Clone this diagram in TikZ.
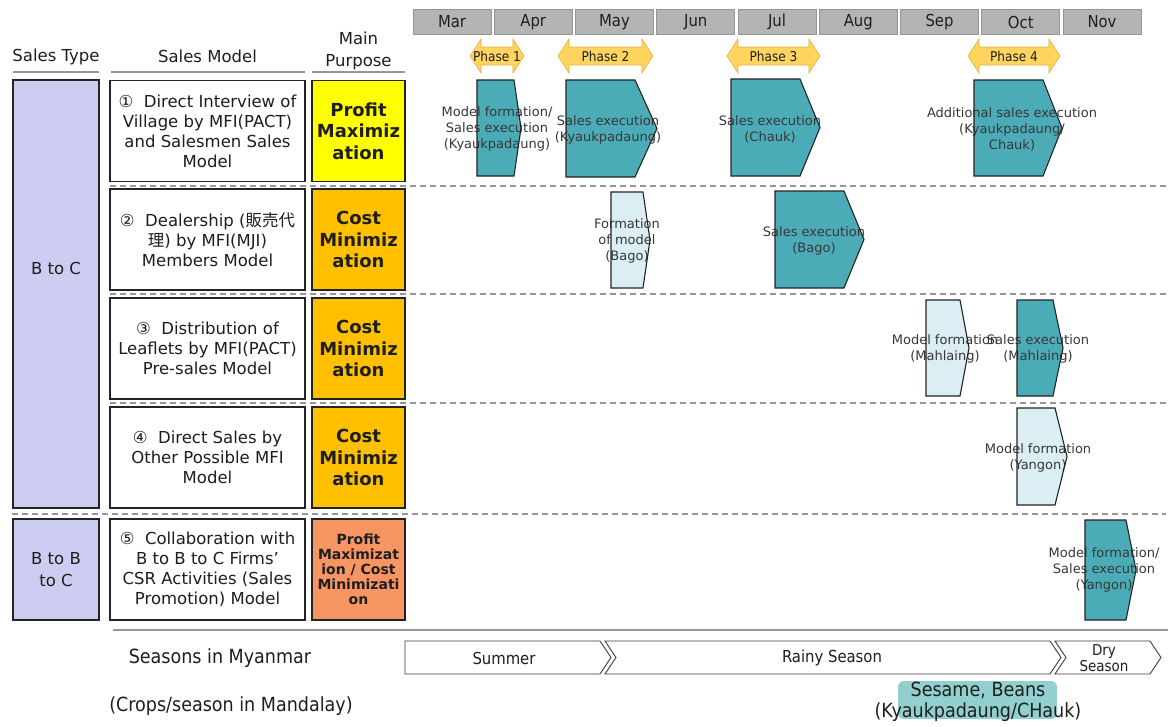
\documentclass[tikz,border=0pt]{standalone}
\usepackage{fontspec}
\setmainfont{DejaVu Sans}
\newfontfamily\condfont{DejaVu Sans Condensed}
\newfontfamily\jpfont{Noto Sans CJK JP}

\definecolor{inkdark}{RGB}{30,30,30}
\definecolor{labelgray}{RGB}{55,55,55}
\definecolor{monthgray}{RGB}{180,180,180}
\definecolor{monthedge}{RGB}{150,150,150}
\definecolor{linegray}{RGB}{150,150,150}
\definecolor{boxedge}{RGB}{35,35,35}
\definecolor{lav}{RGB}{205,205,242}
\definecolor{yel}{RGB}{255,255,0}
\definecolor{org}{RGB}{255,192,0}
\definecolor{salmon}{RGB}{247,150,98}
\definecolor{phasey}{RGB}{255,212,95}
\definecolor{phaseedge}{RGB}{232,175,60}
\definecolor{tealc}{RGB}{75,172,183}
\definecolor{lightc}{RGB}{218,238,243}
\definecolor{seasonedge}{RGB}{60,60,60}
\definecolor{sesame}{RGB}{146,208,208}

% pentagon outline: left, shoulder, tip, top, bottom
\newcommand\pentpath[5]{(#1,#4) -- (#2,#4) -- (#3,{(#4+#5)/2}) -- (#2,#5) -- (#1,#5) -- cycle}
% all activity shapes; #1 adds drawing options for the pass
\newcommand\activityshapes[1]{%
  \path[fill=tealc,#1]  \pentpath{477}{514}{521}{80}{176};
  \path[fill=tealc,#1]  \pentpath{566}{635}{657}{80}{177};
  \path[fill=tealc,#1]  \pentpath{731}{800}{820}{79}{176};
  \path[fill=tealc,#1]  \pentpath{974}{1043}{1062}{80}{176};
  \path[fill=lightc,#1] \pentpath{611}{643}{650}{192}{288};
  \path[fill=tealc,#1]  \pentpath{775}{844}{864}{191}{288};
  \path[fill=lightc,#1] \pentpath{926}{960}{969}{300}{396};
  \path[fill=tealc,#1]  \pentpath{1017}{1053}{1063}{300}{396};
  \path[fill=lightc,#1] \pentpath{1017}{1055}{1067}{408}{505};
  \path[fill=tealc,#1]  \pentpath{1085}{1126}{1136}{520}{620};
}
% double-headed phase arrow: left tip, right tip, node name, text
\newcommand\phasearrow[4]{%
  \path[phasefill] (#1,56) -- ({#1+11},39) -- ({#1+11},47) -- ({#2-11},47) -- ({#2-11},39)
    -- (#2,56) -- ({#2-11},73) -- ({#2-11},65) -- ({#1+11},65) -- ({#1+11},73) -- cycle;
  \node[phasetext] (#3) at ({(#1+#2)/2},56) {#4};
}

\begin{document}
\begin{tikzpicture}[x=1pt,y=-1pt,
  monthbox/.style={fill=monthgray,draw=monthedge,line width=0.8,minimum width=78,minimum height=25,inner sep=0,font=\condfont\fontsize{16.5}{18}\selectfont,text=inkdark},
  header/.style={font=\fontsize{16.5}{22}\selectfont,align=center,text=inkdark},
  headline/.style={draw=linegray,line width=2.5},
  typebox/.style={draw=boxedge,line width=1.2,fill=lav,inner sep=0,minimum width=86},
  typetext/.style={font=\fontsize{16.5}{22}\selectfont,align=center,text=inkdark},
  modelbox/.style={draw=boxedge,line width=1.2,fill=white,inner sep=0,minimum width=195,minimum height=101,align=center,font=\fontsize{16.5}{20}\selectfont,text=inkdark},
  purposebox/.style={draw=boxedge,line width=1.2,inner sep=0,minimum width=93,minimum height=101,align=center,font=\bfseries\fontsize{18}{21.5}\selectfont,text=inkdark},
  rowsep/.style={draw=linegray,line width=2,dash pattern=on 6pt off 4pt},
  phasefill/.style={fill=phasey,draw=phaseedge,line width=0.6},
  phasetext/.style={font=\condfont\fontsize{13.5}{15}\selectfont,text=inkdark},
  steplabel/.style={align=center,font=\fontsize{13}{16}\selectfont,text=labelgray},
  season/.style={draw=seasonedge,fill=white,line width=0.9},
  seasontext/.style={align=center,font=\condfont\fontsize{16.5}{17}\selectfont,text=inkdark},
  bottomtext/.style={align=center,font=\condfont\fontsize{19.5}{21}\selectfont,text=inkdark},
]
\useasboundingbox (0,0) rectangle (1168,726);

% month header
\foreach \m [count=\i from 0] in {Mar,Apr,May,Jun,Jul,Aug,Sep,Oct,Nov}
  \node[monthbox] (m\i) at ({452+81.25*\i},22) {\m};

% phases
\phasearrow{470}{524}{ph1}{Phase 1}
\phasearrow{558}{653}{ph2}{Phase 2}
\phasearrow{727}{820}{ph3}{Phase 3}
\phasearrow{968}{1060}{ph4}{Phase 4}

% column headers
\node[header] (hst) at (56,57) {Sales Type};
\node[header] (hsm) at (207.5,56) {Sales Model};
\node[header] (hmp) at (358.5,51) {Main\\Purpose};
\draw[headline] (13,72) -- (99,72);
\draw[headline] (111,72) -- (305,72);
\draw[headline] (312,72) -- (405,72);

% row separators
\draw[rowsep] (110,185.5) -- (1166,185.5);
\draw[rowsep] (110,294) -- (1166,294);
\draw[rowsep] (110,403) -- (1166,403);
\draw[rowsep] (12,514) -- (1166,514);

% sales types
\node[typebox,minimum height=428] (t1) at (56,294) {};
\node[typetext] (t1l) at (56,268) {B to C};
\node[typebox,minimum height=101] (t2) at (56,569.5) {};
\node[typetext] (t2l) at (56,569.5) {B to B\\to C};

% sales models
\node[modelbox] (s1) at (207.5,131) {①~ Direct Interview of\\Village by MFI(PACT)\\and Salesmen Sales\\Model};
\node[modelbox] (s2) at (207.5,239.5) {②~ Dealership ({\jpfont 販売代}\\{\jpfont 理}) by MFI(MJI)\\Members Model};
\node[modelbox] (s3) at (207.5,348.5) {③~ Distribution of\\Leaflets by MFI(PACT)\\Pre-sales Model};
\node[modelbox] (s4) at (207.5,457.5) {④~ Direct Sales by\\Other Possible MFI\\Model};
\node[modelbox] (s5) at (207.5,569.5) {⑤~ Collaboration with\\B to B to C Firms’\\CSR Activities (Sales\\Promotion) Model};

% main purposes
\node[purposebox,fill=yel] (p1) at (358.5,131) {Profit\\Maximiz\\ation};
\node[purposebox,fill=org] (p2) at (358.5,239.5) {Cost\\Minimiz\\ation};
\node[purposebox,fill=org] (p3) at (358.5,348.5) {Cost\\Minimiz\\ation};
\node[purposebox,fill=org] (p4) at (358.5,457.5) {Cost\\Minimiz\\ation};
\node[purposebox,fill=salmon,font=\bfseries\fontsize{14}{15}\selectfont] (p5) at (358.5,569.5) {Profit\\Maximizat\\ion / Cost\\Minimizati\\on};

% activity shapes: fill, labels, then outlines
\activityshapes{draw=none}
\node[steplabel] (a1) at (497,129) {Model formation/\\Sales execution\\(Kyaukpadaung)};
\node[steplabel] (a2) at (608,129.5) {Sales execution\\(Kyaukpadaung)};
\node[steplabel] (a3) at (770,129.5) {Sales execution\\(Chauk)};
\node[steplabel] (a4) at (1012,129) {Additional sales execution\\(Kyaukpadaung/\\Chauk)};
\node[steplabel] (a5) at (627,241) {Formation\\of model\\(Bago)};
\node[steplabel] (a6) at (814,241) {Sales execution\\(Bago)};
\node[steplabel] (a7) at (945,349) {Model formation\\(Mahlaing)};
\node[steplabel] (a8) at (1038,349) {Sales execution\\(Mahlaing)};
\node[steplabel] (a9) at (1038,458) {Model formation\\(Yangon)};
\node[steplabel] (a10) at (1104,570) {Model formation/\\Sales execution\\(Yangon)};
\activityshapes{fill=none,draw=boxedge,line width=1.1}

% seasons
\draw[headline] (113,630) -- (1168,630);
\node[bottomtext] (sl) at (220,658) {Seasons in Myanmar};
\path[season] (405,641) -- (600,641) -- (611,657.5) -- (600,674) -- (405,674) -- cycle;
\path[season] (605,641) -- (1050,641) -- (1061,657.5) -- (1050,674) -- (605,674) -- (616,657.5) -- cycle;
\path[season] (1055,641) -- (1150,641) -- (1161,657.5) -- (1150,674) -- (1055,674) -- (1066,657.5) -- cycle;
\node[seasontext] (sum) at (504,658) {Summer};
\node[seasontext] (rain) at (832,658) {Rainy Season};
\node[seasontext,font=\condfont\fontsize{15}{16}\selectfont] (dry) at (1104,658) {Dry\\Season};

% crops
\node[bottomtext] (cl) at (231,706) {(Crops/season in Mandalay)};
\node[fill=sesame,rounded corners=6,minimum width=159,minimum height=38,inner sep=0] (crop) at (977.5,700) {};
\node[bottomtext] (cropl) at (978,702) {Sesame, Beans\\(Kyaukpadaung/CHauk)};
\end{tikzpicture}
\end{document}
